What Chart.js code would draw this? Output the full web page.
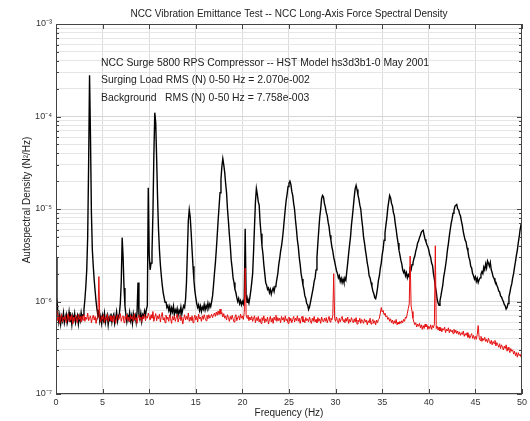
<!DOCTYPE html>
<html>
<head>
<meta charset="utf-8">
<script src="https://cdn.jsdelivr.net/npm/chart.js@4.4.1/dist/chart.umd.min.js"></script>
<style>
    html, body { margin: 0; padding: 0; background: #fff; }
    #wrap { width: 530px; height: 421px; }
</style>
</head>
<body>
<div id="wrap"><canvas id="psdChart" width="530" height="421"></canvas></div>
<script>
// spectral bins are 0.1 Hz apart, 0 .. 50 Hz
const FREQ_STEP = 0.1;

// surging load autospectral density (N^2/Hz), one row per Hz
const surging = [
    3.0e-6, 1.1e-6, 7.4e-7, 6.0e-7, 7.1e-7, 5.7e-7, 6.9e-7, 6.2e-7, 7.5e-7, 5.9e-7,
    6.7e-7, 7.3e-7, 5.8e-7, 6.4e-7, 7.7e-7, 6.0e-7, 6.8e-7, 5.6e-7, 7.0e-7, 6.3e-7,
    7.4e-7, 5.9e-7, 6.6e-7, 7.1e-7, 5.7e-7, 6.9e-7, 6.2e-7, 7.6e-7, 6.5e-7, 7.2e-7,
    8.2e-7, 1.05e-6, 1.45e-6, 2.2e-6, 5.0e-6, 3.0e-5, 2.8e-4, 6.0e-5, 9.0e-6, 3.6e-6,
    2.4e-6, 1.7e-6, 1.3e-6, 1.0e-6, 8.2e-7, 7.0e-7, 7.6e-7, 6.1e-7, 6.9e-7, 5.8e-7,
    7.1e-7, 6.3e-7, 7.5e-7, 5.9e-7, 6.7e-7, 7.2e-7, 5.6e-7, 6.8e-7, 6.2e-7, 7.4e-7,
    6.0e-7, 6.9e-7, 7.3e-7, 5.8e-7, 6.6e-7, 7.7e-7, 6.1e-7, 6.9e-7, 7.4e-7, 9.5e-7,
    1.6e-6, 4.9e-6, 3.0e-6, 1.4e-6, 9.0e-7, 7.2e-7, 6.0e-7, 7.0e-7, 6.4e-7, 7.6e-7,
    6.2e-7, 7.0e-7, 5.8e-7, 7.4e-7, 6.5e-7, 7.1e-7, 6.0e-7, 7.8e-7, 1.6e-6, 7.0e-7,
    6.4e-7, 7.5e-7, 6.1e-7, 7.2e-7, 6.8e-7, 7.9e-7, 7.1e-7, 8.2e-7, 9.0e-7, 1.7e-5,
    3.2e-6, 2.2e-6, 2.6e-6, 3.4e-6, 9.0e-6, 3.8e-5, 1.1e-4, 8.5e-5, 3.5e-5, 1.3e-5,
    6.0e-6, 3.6e-6, 2.5e-6, 1.9e-6, 1.5e-6, 1.25e-6, 1.1e-6, 9.8e-7, 1.0e-6, 8.6e-7,
    9.0e-7, 8.0e-7, 8.8e-7, 7.4e-7, 8.5e-7, 7.7e-7, 8.9e-7, 7.2e-7, 8.1e-7, 7.6e-7,
    8.4e-7, 7.1e-7, 8.0e-7, 7.5e-7, 8.7e-7, 7.3e-7, 8.2e-7, 9.0e-7, 8.6e-7, 1.05e-6,
    1.6e-6, 3.5e-6, 7.5e-6, 9.8e-6, 8.2e-6, 5.6e-6, 3.6e-6, 2.4e-6, 1.7e-6, 1.3e-6,
    1.1e-6, 9.5e-7, 8.6e-7, 9.2e-7, 8.0e-7, 8.9e-7, 7.8e-7, 8.7e-7, 8.2e-7, 9.3e-7,
    8.1e-7, 9.0e-7, 8.4e-7, 9.6e-7, 8.5e-7, 9.4e-7, 8.8e-7, 1.0e-6, 1.15e-6, 1.5e-6,
    2.0e-6, 2.6e-6, 3.6e-6, 5.2e-6, 7.6e-6, 1.07e-5, 1.5e-5, 2.1e-5, 2.9e-5, 3.5e-5,
    3.0e-5, 2.5e-5, 1.9e-5, 1.5e-5, 1.0e-5, 7.4e-6, 5.3e-6, 4.0e-6, 2.8e-6, 2.3e-6,
    1.8e-6, 1.6e-6, 1.35e-6, 1.25e-6, 1.1e-6, 1.0e-6, 1.08e-6, 9.5e-7, 1.02e-6, 9.2e-7,
    1.0e-6, 9.4e-7, 1.1e-6, 6.1e-6, 1.15e-6, 9.8e-7, 1.05e-6, 9.6e-7, 1.1e-6, 1.3e-6,
    1.6e-6, 2.0e-6, 3.5e-6, 6.5e-6, 1.2e-5, 1.67e-5, 1.45e-5, 1.2e-5, 1.1e-5, 7.2e-6,
    5.4e-6, 4.0e-6, 3.3e-6, 2.5e-6, 2.0e-6, 1.6e-6, 1.5e-6, 1.35e-6, 1.4e-6, 1.25e-6,
    1.35e-6, 1.2e-6, 1.32e-6, 1.4e-6, 1.28e-6, 1.45e-6, 1.5e-6, 1.75e-6, 2.0e-6, 2.5e-6,
    2.9e-6, 3.5e-6, 4.0e-6, 4.8e-6, 6.0e-6, 7.8e-6, 1.0e-5, 1.25e-5, 1.45e-5, 1.75e-5,
    1.9e-5, 2.0e-5, 1.85e-5, 1.55e-5, 1.4e-5, 1.15e-5, 9.8e-6, 7.5e-6, 6.0e-6, 4.6e-6,
    3.9e-6, 3.0e-6, 2.5e-6, 2.0e-6, 1.75e-6, 1.5e-6, 1.35e-6, 1.15e-6, 1.08e-6, 9.5e-7,
    9.2e-7, 8.2e-7, 8.7e-7, 9.8e-7, 1.1e-6, 1.25e-6, 1.4e-6, 1.65e-6, 1.8e-6, 2.2e-6,
    3.0e-6, 4.3e-6, 6.0e-6, 8.2e-6, 1.0e-5, 1.3e-5, 1.4e-5, 1.35e-5, 1.15e-5, 1.05e-5,
    9.2e-6, 8.5e-6, 7.2e-6, 6.4e-6, 5.2e-6, 4.6e-6, 3.9e-6, 3.5e-6, 3.0e-6, 2.7e-6,
    2.4e-6, 2.15e-6, 2.0e-6, 1.8e-6, 1.9e-6, 1.65e-6, 1.78e-6, 1.6e-6, 1.75e-6, 1.6e-6,
    1.8e-6, 1.7e-6, 2.1e-6, 2.6e-6, 3.3e-6, 4.1e-6, 5.0e-6, 6.7e-6, 8.3e-6, 1.05e-5,
    1.35e-5, 1.65e-5, 1.8e-5, 1.62e-5, 1.42e-5, 1.28e-5, 1.1e-5, 1.0e-5, 7.8e-6, 6.4e-6,
    5.0e-6, 4.3e-6, 3.6e-6, 3.1e-6, 2.6e-6, 2.3e-6, 1.9e-6, 1.8e-6, 1.6e-6, 1.45e-6,
    1.3e-6, 1.22e-6, 1.1e-6, 1.07e-6, 1.2e-6, 1.4e-6, 1.7e-6, 1.9e-6, 2.3e-6, 2.6e-6,
    3.2e-6, 3.7e-6, 4.6e-6, 5.5e-6, 6.7e-6, 8.0e-6, 1.02e-5, 1.2e-5, 1.4e-5, 1.32e-5,
    1.15e-5, 1.08e-5, 9.2e-6, 8.5e-6, 7.0e-6, 6.0e-6, 5.0e-6, 4.3e-6, 3.6e-6, 3.2e-6,
    2.8e-6, 2.55e-6, 2.2e-6, 2.05e-6, 2.15e-6, 1.9e-6, 2.05e-6, 1.8e-6, 1.95e-6, 1.85e-6,
    2.3e-6, 2.2e-6, 2.5e-6, 2.6e-6, 2.9e-6, 3.1e-6, 3.5e-6, 3.8e-6, 4.3e-6, 4.5e-6,
    4.9e-6, 5.2e-6, 5.6e-6, 5.8e-6, 5.9e-6, 5.2e-6, 4.7e-6, 4.4e-6, 4.1e-6, 3.9e-6,
    3.6e-6, 3.2e-6, 3.0e-6, 2.6e-6, 2.45e-6, 2.0e-6, 1.75e-6, 1.45e-6, 1.28e-6, 1.05e-6,
    9.6e-7, 9.1e-7, 1.02e-6, 1.15e-6, 1.32e-6, 1.5e-6, 1.85e-6, 2.1e-6, 2.45e-6, 2.9e-6,
    3.6e-6, 4.2e-6, 5.1e-6, 6.0e-6, 7.0e-6, 7.8e-6, 9.0e-6, 9.6e-6, 1.07e-5, 1.1e-5,
    1.12e-5, 1.0e-5, 9.8e-6, 8.9e-6, 8.4e-6, 7.4e-6, 6.6e-6, 5.7e-6, 5.1e-6, 4.6e-6,
    4.4e-6, 3.8e-6, 3.5e-6, 3.0e-6, 2.8e-6, 2.4e-6, 2.3e-6, 2.0e-6, 1.9e-6, 1.75e-6,
    1.85e-6, 1.65e-6, 1.78e-6, 1.6e-6, 1.72e-6, 1.8e-6, 1.98e-6, 2.1e-6, 2.0e-6, 2.35e-6,
    2.2e-6, 2.55e-6, 2.3e-6, 2.75e-6, 2.6e-6, 2.4e-6, 2.65e-6, 2.2e-6, 2.05e-6, 1.85e-6,
    1.78e-6, 1.65e-6, 1.62e-6, 1.5e-6, 1.42e-6, 1.3e-6, 1.27e-6, 1.15e-6, 1.12e-6, 1.05e-6,
    1.0e-6, 9.3e-7, 9.0e-7, 8.3e-7, 8.6e-7, 9.5e-7, 1.12e-6, 1.25e-6, 1.42e-6, 1.55e-6,
    1.8e-6, 2.0e-6, 2.35e-6, 2.7e-6, 3.15e-6, 3.6e-6, 4.3e-6, 5.0e-6, 6.0e-6, 6.8e-6,
    7.3e-6
];

// background autospectral density (N^2/Hz), one row per Hz
const background = [
    8.0e-7, 6.9e-7, 6.2e-7, 7.1e-7, 5.8e-7, 6.7e-7, 7.3e-7, 6.0e-7, 6.8e-7, 6.4e-7,
    7.0e-7, 5.9e-7, 6.6e-7, 7.4e-7, 6.1e-7, 6.9e-7, 6.3e-7, 7.2e-7, 5.7e-7, 6.8e-7,
    6.2e-7, 7.1e-7, 6.5e-7, 5.9e-7, 7.3e-7, 6.4e-7, 6.9e-7, 6.0e-7, 7.0e-7, 6.3e-7,
    7.2e-7, 6.1e-7, 6.8e-7, 6.4e-7, 7.5e-7, 6.2e-7, 6.7e-7, 7.0e-7, 5.9e-7, 6.6e-7,
    7.1e-7, 6.3e-7, 6.9e-7, 5.8e-7, 6.7e-7, 7.4e-7, 1.86e-6, 6.5e-7, 6.0e-7, 6.9e-7,
    6.4e-7, 7.2e-7, 5.9e-7, 6.8e-7, 6.3e-7, 7.3e-7, 6.1e-7, 6.7e-7, 7.0e-7, 6.2e-7,
    6.9e-7, 6.0e-7, 7.1e-7, 6.5e-7, 5.8e-7, 6.8e-7, 7.2e-7, 6.3e-7, 6.6e-7, 7.4e-7,
    6.1e-7, 6.7e-7, 7.0e-7, 5.9e-7, 6.9e-7, 6.4e-7, 7.3e-7, 6.2e-7, 6.8e-7, 6.0e-7,
    7.1e-7, 6.5e-7, 6.9e-7, 6.1e-7, 7.4e-7, 6.3e-7, 6.7e-7, 5.8e-7, 6.9e-7, 7.2e-7,
    6.4e-7, 6.8e-7, 6.0e-7, 7.0e-7, 6.5e-7, 7.3e-7, 6.2e-7, 6.9e-7, 6.6e-7, 7.5e-7,
    6.9e-7, 6.3e-7, 7.2e-7, 6.6e-7, 7.8e-7, 6.1e-7, 6.8e-7, 7.4e-7, 6.2e-7, 7.0e-7,
    6.5e-7, 7.3e-7, 6.0e-7, 6.9e-7, 7.6e-7, 6.3e-7, 6.7e-7, 5.9e-7, 7.1e-7, 6.4e-7,
    6.8e-7, 6.1e-7, 7.2e-7, 6.5e-7, 5.8e-7, 6.9e-7, 6.3e-7, 7.0e-7, 6.1e-7, 6.7e-7,
    7.3e-7, 6.0e-7, 6.6e-7, 7.1e-7, 6.2e-7, 6.8e-7, 5.7e-7, 6.5e-7, 7.2e-7, 6.3e-7,
    6.9e-7, 6.4e-7, 7.5e-7, 6.1e-7, 6.8e-7, 6.2e-7, 7.0e-7, 5.9e-7, 6.6e-7, 7.1e-7,
    6.3e-7, 6.9e-7, 6.0e-7, 7.3e-7, 6.5e-7, 6.8e-7, 6.1e-7, 7.0e-7, 6.4e-7, 7.2e-7,
    6.6e-7, 6.2e-7, 7.1e-7, 6.5e-7, 7.2e-7, 6.6e-7, 6.9e-7, 7.3e-7, 6.7e-7, 7.1e-7,
    7.5e-7, 6.9e-7, 7.7e-7, 7.1e-7, 7.9e-7, 7.2e-7, 8.3e-7, 7.3e-7, 7.6e-7, 6.8e-7,
    7.4e-7, 6.6e-7, 7.0e-7, 6.3e-7, 7.2e-7, 6.7e-7, 6.1e-7, 6.9e-7, 6.4e-7, 7.1e-7,
    6.5e-7, 6.0e-7, 6.8e-7, 7.2e-7, 6.2e-7, 6.7e-7, 7.0e-7, 6.3e-7, 7.3e-7, 6.6e-7,
    7.0e-7, 6.4e-7, 7.6e-7, 2.3e-6, 7.2e-7, 6.6e-7, 7.1e-7, 6.2e-7, 6.8e-7, 6.3e-7,
    6.9e-7, 6.1e-7, 6.6e-7, 7.0e-7, 5.9e-7, 6.7e-7, 6.2e-7, 6.9e-7, 6.0e-7, 6.5e-7,
    5.8e-7, 6.7e-7, 6.2e-7, 7.0e-7, 5.9e-7, 6.5e-7, 6.1e-7, 6.8e-7, 5.7e-7, 6.4e-7,
    6.9e-7, 6.0e-7, 6.6e-7, 5.8e-7, 6.8e-7, 6.3e-7, 7.1e-7, 6.1e-7, 6.7e-7, 6.2e-7,
    6.6e-7, 5.9e-7, 6.9e-7, 6.3e-7, 6.7e-7, 6.0e-7, 7.0e-7, 6.2e-7, 6.5e-7, 5.8e-7,
    6.8e-7, 6.1e-7, 6.6e-7, 5.9e-7, 6.4e-7, 6.9e-7, 6.0e-7, 6.6e-7, 6.2e-7, 7.0e-7,
    6.1e-7, 6.6e-7, 5.8e-7, 6.5e-7, 6.9e-7, 6.0e-7, 6.4e-7, 5.9e-7, 6.7e-7, 6.2e-7,
    6.5e-7, 6.0e-7, 6.8e-7, 6.2e-7, 5.8e-7, 6.6e-7, 6.1e-7, 6.9e-7, 6.0e-7, 6.4e-7,
    5.9e-7, 6.7e-7, 6.1e-7, 6.5e-7, 5.8e-7, 6.8e-7, 6.2e-7, 6.0e-7, 6.6e-7, 6.1e-7,
    6.7e-7, 5.9e-7, 6.4e-7, 6.9e-7, 6.0e-7, 6.6e-7, 6.3e-7, 7.1e-7, 2.0e-6, 6.5e-7,
    6.1e-7, 6.8e-7, 6.2e-7, 5.8e-7, 6.6e-7, 6.0e-7, 6.5e-7, 6.9e-7, 6.1e-7, 6.4e-7,
    5.9e-7, 6.6e-7, 6.1e-7, 6.8e-7, 5.8e-7, 6.4e-7, 6.0e-7, 6.7e-7, 6.2e-7, 5.9e-7,
    6.5e-7, 6.0e-7, 6.7e-7, 5.7e-7, 6.3e-7, 6.0e-7, 6.6e-7, 5.8e-7, 6.4e-7, 6.1e-7,
    5.8e-7, 6.5e-7, 6.0e-7, 6.3e-7, 5.6e-7, 6.2e-7, 5.9e-7, 6.6e-7, 5.7e-7, 6.1e-7,
    6.4e-7, 5.8e-7, 6.2e-7, 5.6e-7, 6.3e-7, 5.9e-7, 6.4e-7, 6.6e-7, 7.5e-7, 8.6e-7,
    7.7e-7, 8.0e-7, 7.2e-7, 7.5e-7, 6.8e-7, 7.0e-7, 6.4e-7, 6.7e-7, 6.1e-7, 6.5e-7,
    5.9e-7, 6.3e-7, 5.7e-7, 6.2e-7, 5.8e-7, 6.4e-7, 5.6e-7, 6.0e-7, 5.7e-7, 6.1e-7,
    5.8e-7, 6.2e-7, 5.9e-7, 6.4e-7, 6.1e-7, 6.8e-7, 6.6e-7, 7.5e-7, 8.4e-7, 9.4e-7,
    3.1e-6, 9.0e-7, 7.8e-7, 6.6e-7, 6.0e-7, 5.6e-7, 5.9e-7, 5.3e-7, 5.7e-7, 5.4e-7,
    5.8e-7, 5.2e-7, 5.6e-7, 5.0e-7, 5.5e-7, 5.1e-7, 5.7e-7, 5.3e-7, 5.6e-7, 5.0e-7,
    5.4e-7, 5.1e-7, 5.6e-7, 5.0e-7, 5.5e-7, 5.2e-7, 5.7e-7, 4.0e-6, 5.1e-7, 5.4e-7,
    4.9e-7, 5.3e-7, 4.8e-7, 5.2e-7, 4.7e-7, 5.1e-7, 4.9e-7, 5.3e-7, 4.6e-7, 5.0e-7,
    4.8e-7, 5.2e-7, 4.6e-7, 5.0e-7, 4.7e-7, 4.9e-7, 4.5e-7, 5.0e-7, 4.6e-7, 4.9e-7,
    4.5e-7, 4.8e-7, 4.4e-7, 4.7e-7, 4.3e-7, 4.6e-7, 4.4e-7, 4.8e-7, 4.2e-7, 4.5e-7,
    4.3e-7, 4.6e-7, 4.1e-7, 4.4e-7, 4.0e-7, 4.3e-7, 4.5e-7, 4.0e-7, 4.3e-7, 3.9e-7,
    4.2e-7, 3.9e-7, 4.4e-7, 5.5e-7, 4.1e-7, 3.8e-7, 4.2e-7, 3.7e-7, 4.0e-7, 3.8e-7,
    4.1e-7, 3.7e-7, 3.9e-7, 3.6e-7, 4.0e-7, 3.7e-7, 3.5e-7, 3.8e-7, 3.4e-7, 3.7e-7,
    3.5e-7, 3.8e-7, 3.3e-7, 3.6e-7, 3.4e-7, 3.2e-7, 3.5e-7, 3.1e-7, 3.4e-7, 3.2e-7,
    3.0e-7, 3.3e-7, 3.1e-7, 3.4e-7, 2.9e-7, 3.2e-7, 3.0e-7, 2.8e-7, 3.1e-7, 2.9e-7,
    3.0e-7, 2.7e-7, 2.9e-7, 2.6e-7, 2.8e-7, 2.5e-7, 2.8e-7, 2.6e-7, 2.7e-7, 2.5e-7,
    2.6e-7
];

const yTickValues = [1e-7, 1e-6, 1e-5, 1e-4, 1e-3];
const yTickLabels = ['10\u207B\u2077', '10\u207B\u2076', '10\u207B\u2075', '10\u207B\u2074', '10\u207B\u00B3'];

const titleText = 'NCC Vibration Emittance Test -- NCC Long-Axis Force Spectral Density';
const yLabel = 'Autospectral Density (N\u00B2/Hz)';
const xLabel = 'Frequency (Hz)';
const notes = [
    'NCC Surge 5800 RPS Compressor -- HST Model hs3d3b1-0 May 2001',
    'Surging Load RMS (N) 0-50 Hz = 2.070e-002',
    'Background   RMS (N) 0-50 Hz = 7.758e-003'
];

const FONT = '"Liberation Sans", Arial, sans-serif';
const binFreq = (i) => Math.round(i * FREQ_STEP * 10) / 10;

const toPoints = (arr) => arr.map((v, i) => ({ x: binFreq(i), y: v }));

// frame, inward tick marks, y label and the text block
const decorPlugin = {
    id: 'decor',
    afterDraw(chart) {
        const { ctx, chartArea: a, scales } = chart;
        ctx.save();
        ctx.strokeStyle = '#444';
        ctx.lineWidth = 1;
        ctx.strokeRect(a.left + 0.5, a.top + 0.5, a.right - a.left - 1, a.bottom - a.top - 1);

        ctx.beginPath();
        scales.y.ticks.forEach(t => {
            const y = Math.round(scales.y.getPixelForValue(t.value)) + 0.5;
            const len = yTickValues.includes(t.value) ? 5 : 3;
            ctx.moveTo(a.left, y); ctx.lineTo(a.left + len, y);
            ctx.moveTo(a.right, y); ctx.lineTo(a.right - len, y);
        });
        scales.x.ticks.forEach(t => {
            const x = Math.round(scales.x.getPixelForValue(t.value)) + 0.5;
            ctx.moveTo(x, a.bottom); ctx.lineTo(x, a.bottom - 5);
            ctx.moveTo(x, a.top); ctx.lineTo(x, a.top + 5);
        });
        ctx.stroke();

        ctx.fillStyle = '#222';
        ctx.font = '10.4px ' + FONT;
        ctx.textBaseline = 'middle';
        ctx.textAlign = 'left';
        notes.forEach((n, i) => ctx.fillText(n, 101, 63 + i * 17.5));

        ctx.font = '10px ' + FONT;
        ctx.translate(27, 200);
        ctx.rotate(-Math.PI / 2);
        ctx.textAlign = 'center';
        ctx.fillText(yLabel, 0, 0);
        ctx.restore();
    }
};

const ctx = document.getElementById('psdChart').getContext('2d');
new Chart(ctx, {
    type: 'line',
    data: {
        datasets: [
            {
                label: 'Background',
                data: toPoints(background),
                borderColor: '#e50f0f',
                borderWidth: 1,
                pointRadius: 0,
                tension: 0
            },
            {
                label: 'Surging Load',
                data: toPoints(surging),
                borderColor: '#000000',
                borderWidth: 1.4,
                pointRadius: 0,
                tension: 0
            }
        ]
    },
    options: {
        responsive: false,
        animation: false,
        events: [],
        layout: { padding: { left: 0, right: 7, top: 0, bottom: 0 } },
        plugins: {
            legend: { display: false },
            tooltip: { enabled: false },
            title: {
                display: true,
                fullSize: false,
                text: titleText,
                color: '#222',
                font: { family: FONT, size: 10, weight: 'normal' },
                padding: { top: 8, bottom: 4 }
            }
        },
        scales: {
            x: {
                type: 'linear',
                min: 0,
                max: 50,
                border: { display: false },
                grid: { color: '#dcdcdc', drawTicks: false },
                ticks: {
                    stepSize: 5,
                    padding: 3,
                    color: '#333',
                    font: { family: FONT, size: 9 },
                    maxRotation: 0
                },
                title: {
                    display: true,
                    text: xLabel,
                    color: '#222',
                    font: { family: FONT, size: 10 },
                    padding: { top: 0, bottom: 2 }
                },
                afterFit(s) { s.height = 27; }
            },
            y: {
                type: 'logarithmic',
                min: 1e-7,
                max: 1e-3,
                border: { display: false },
                grid: {
                    drawTicks: false,
                    color: (c) => (c.tick && yTickValues.includes(c.tick.value)) ? '#d6d6d6' : '#e6e6e6'
                },
                afterBuildTicks(s) {
                    // keep 1..9 per decade, drop the 1.5 ticks chart.js adds
                    s.ticks = s.ticks.filter(t => {
                        const m = t.value / Math.pow(10, Math.floor(Math.log10(t.value) + 1e-9));
                        return Math.abs(m - Math.round(m)) < 1e-6;
                    });
                },
                ticks: {
                    autoSkip: false,
                    padding: 4,
                    color: '#333',
                    font: { family: FONT, size: 9 },
                    callback: (v) => {
                        const i = yTickValues.findIndex(t => Math.abs(t - v) / t < 1e-6);
                        return i >= 0 ? yTickLabels[i] : '';
                    }
                },
                afterFit(s) { s.width = 56; }
            }
        }
    },
    plugins: [decorPlugin]
});
</script>
</body>
</html>
